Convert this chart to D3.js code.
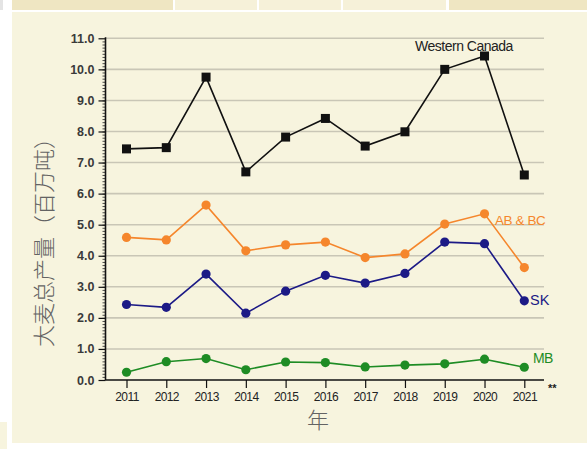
<!DOCTYPE html>
<html><head><meta charset="utf-8">
<script src="https://cdn.jsdelivr.net/npm/d3@7"></script>
<style>body{margin:0;background:#fff;}svg{display:block;}</style>
</head><body><svg id="c" width="587" height="449"></svg>
<script>
const years = [2011,2012,2013,2014,2015,2016,2017,2018,2019,2020,2021];
const westernCanada = [7.44,7.48,9.75,6.70,7.82,8.42,7.53,7.99,10.0,10.43,6.60];
const abbc = [4.59,4.51,5.63,4.16,4.35,4.44,3.94,4.06,5.02,5.35,3.62];
const sk = [2.43,2.34,3.41,2.15,2.86,3.37,3.12,3.43,4.44,4.39,2.55];
const mb = [0.25,0.59,0.69,0.33,0.58,0.56,0.42,0.48,0.52,0.67,0.41];
const yTicks = [0,1,2,3,4,5,6,7,8,9,10,11];
const seriesNames = ["Western Canada","AB & BC","SK","MB"];
const yTitle = "大麦总产量（百万吨）";
const xTitle = "年";

const svg = d3.select("#c");
// background pieces
svg.append("rect").attr("x",0).attr("y",0).attr("width",587).attr("height",449).attr("fill","#ffffff");
const strips = [[12,173,"#efe6c2"],[175,257,"#f6f1d9"],[259,341,"#f6f1d9"],[343,446,"#f6f1d9"],[449,587,"#efe6c2"]];
strips.forEach(s=>svg.append("rect").attr("x",s[0]).attr("y",0).attr("width",s[1]-s[0]).attr("height",10).attr("fill",s[2]));
svg.append("rect").attr("x",0).attr("y",0).attr("width",3).attr("height",10).attr("fill","#e4e4e4");
svg.append("rect").attr("x",12).attr("y",12).attr("width",575).attr("height",431).attr("fill","#f7f4de");
svg.append("rect").attr("x",0).attr("y",422).attr("width",7).attr("height",27).attr("fill","#f7f4de");

const x = d3.scalePoint().domain(years).range([126.5,524.3]);
const y = d3.scaleLinear().domain([0,11]).range([380,38.3]);
const axisX0 = 105.5, gridX1 = 544;

// gridlines
svg.append("g").selectAll("line").data(yTicks.filter(d=>d>0)).join("line")
  .attr("x1",axisX0).attr("x2",gridX1).attr("y1",d=>y(d)).attr("y2",d=>y(d))
  .attr("stroke","#c9c6b6").attr("stroke-width",1.6);

// y axis
const minor = d3.range(0,110).map(i=>i/10);
svg.append("g").attr("transform",`translate(${axisX0},0)`)
  .call(d3.axisLeft(y).tickValues(minor).tickSize(3).tickFormat(""))
  .call(g=>g.select(".domain").remove())
  .selectAll("line").attr("stroke","#222").attr("stroke-width",0.8);
const ya = svg.append("g").attr("transform",`translate(${axisX0},0)`)
  .call(d3.axisLeft(y).tickValues(yTicks).tickSize(7).tickPadding(4).tickFormat(d3.format(".1f")));
ya.select(".domain").attr("d",`M0,${y(11)-1}V${y(0)}`).attr("stroke","#111").attr("stroke-width",1.6);
ya.selectAll(".tick line").attr("stroke","#111").attr("stroke-width",1.2);
ya.selectAll("text").attr("font-family","'Liberation Sans Narrow','Liberation Sans',Arial,sans-serif")
  .attr("font-size",12.5).attr("font-weight","bold").attr("fill","#3a3a3a");

// x axis
const xa = svg.append("g").attr("transform",`translate(0,${y(0)})`)
  .call(d3.axisBottom(x).tickSize(8).tickPadding(4).tickFormat(d3.format("d")));
xa.select(".domain").attr("d",`M${axisX0},0H${gridX1}`).attr("stroke","#111").attr("stroke-width",1.6);
xa.selectAll(".tick line").attr("stroke","#111").attr("stroke-width",1.2);
xa.selectAll("text").attr("font-family","'Liberation Sans Narrow','Liberation Sans',Arial,sans-serif")
  .attr("font-size",12).attr("fill","#222").attr("letter-spacing",-0.6);
svg.append("text").attr("x",548).attr("y",392).attr("font-family","Liberation Sans,Arial,sans-serif")
  .attr("font-size",11).attr("font-weight","bold").attr("fill","#222").text("**");

const line = d3.line().x((d,i)=>x(years[i])).y(d=>y(d));
function drawSeries(vals,color,shape){
  svg.append("path").datum(vals).attr("d",line).attr("fill","none").attr("stroke",color).attr("stroke-width",1.6);
  if(shape==="square"){
    svg.append("g").selectAll("rect").data(vals).join("rect")
      .attr("x",(d,i)=>x(years[i])-4.5).attr("y",d=>y(d)-4.5).attr("width",9).attr("height",9).attr("fill",color);
  } else {
    svg.append("g").selectAll("circle").data(vals).join("circle")
      .attr("cx",(d,i)=>x(years[i])).attr("cy",d=>y(d)).attr("r",4.6).attr("fill",color);
  }
}
drawSeries(mb,"#1e8c24","circle");
drawSeries(sk,"#1c1a86","circle");
drawSeries(abbc,"#f5862c","circle");
drawSeries(westernCanada,"#111111","square");

const lf = "'Liberation Sans',Arial,sans-serif";
svg.append("text").attr("x",464).attr("y",51).attr("text-anchor","middle").attr("font-family",lf)
  .attr("font-size",14).attr("fill","#222").attr("letter-spacing",-0.5).text(seriesNames[0]);
svg.append("text").attr("x",495).attr("y",225).attr("font-family",lf)
  .attr("font-size",13.5).attr("fill","#f5862c").attr("letter-spacing",-0.4).text(seriesNames[1]);
svg.append("text").attr("x",530).attr("y",305).attr("font-family",lf)
  .attr("font-size",14.5).attr("fill","#1c1a86").text(seriesNames[2]);
svg.append("text").attr("x",533).attr("y",363).attr("font-family",lf)
  .attr("font-size",14).attr("fill","#1e8c24").attr("letter-spacing",-0.6).text(seriesNames[3]);

// titles
svg.append("text").attr("transform","translate(52,237) rotate(-90)").attr("text-anchor","middle")
  .attr("font-family","'Noto Sans CJK SC',sans-serif").attr("font-weight",300).attr("font-size",22)
  .attr("fill","#636363").text(yTitle);
svg.append("text").attr("x",318).attr("y",428).attr("text-anchor","middle")
  .attr("font-family","'Noto Sans CJK SC',sans-serif").attr("font-weight",300).attr("font-size",22)
  .attr("fill","#636363").text(xTitle);
</script></body></html>
